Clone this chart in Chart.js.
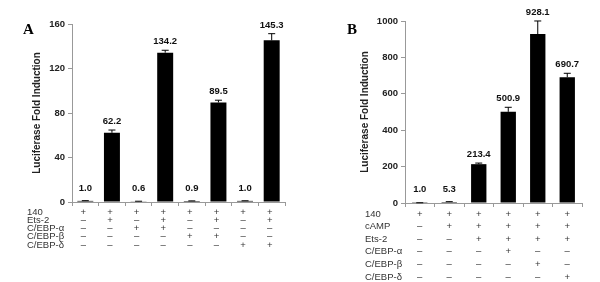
<!DOCTYPE html>
<html>
<head>
<meta charset="utf-8">
<script src="https://cdn.jsdelivr.net/npm/chart.js@4"></script>
<style>
  html, body { margin: 0; padding: 0; background: #fff; }
  #wrap { display: flex; width: 600px; height: 282px; }
  canvas { display: block; }
</style>
</head>
<body>
<div id="wrap">
  <canvas id="chartA" width="300" height="282"></canvas>
  <canvas id="chartB" width="300" height="282"></canvas>
</div>
<script>
// Panel A data
const categoriesA = ['140', '140+Ets-2', '140+C/EBP-α', '140+Ets-2+C/EBP-α', '140+C/EBP-β', '140+Ets-2+C/EBP-β', '140+C/EBP-δ', '140+Ets-2+C/EBP-δ'];
const valuesA = [1.0, 62.2, 0.6, 134.2, 0.9, 89.5, 1.0, 145.3];
const errorsA = [0.2, 2.5, 0.1, 2.2, 0.1, 2.0, 0.1, 6.0];
const ticksA = [0, 40, 80, 120, 160];
const rowNamesA = ['140', 'Ets-2', 'C/EBP-α', 'C/EBP-β', 'C/EBP-δ'];
const rowSignsA = [
    ['+', '+', '+', '+', '+', '+', '+', '+'],
    ['–', '+', '–', '+', '–', '+', '–', '+'],
    ['–', '–', '+', '+', '–', '–', '–', '–'],
    ['–', '–', '–', '–', '+', '+', '–', '–'],
    ['–', '–', '–', '–', '–', '–', '+', '+']
];

// Panel B data
const categoriesB = ['140', '140+cAMP', '140+cAMP+Ets-2', '140+cAMP+Ets-2+C/EBP-α', '140+cAMP+Ets-2+C/EBP-β', '140+cAMP+Ets-2+C/EBP-δ'];
const valuesB = [1.0, 5.3, 213.4, 500.9, 928.1, 690.7];
const errorsB = [0.3, 2, 6, 25, 72, 22];
const ticksB = [0, 200, 400, 600, 800, 1000];
const rowNamesB = ['140', 'cAMP', 'Ets-2', 'C/EBP-α', 'C/EBP-β', 'C/EBP-δ'];
const rowSignsB = [
    ['+', '+', '+', '+', '+', '+'],
    ['–', '+', '+', '+', '+', '+'],
    ['–', '–', '+', '+', '+', '+'],
    ['–', '–', '–', '+', '–', '–'],
    ['–', '–', '–', '–', '+', '–'],
    ['–', '–', '–', '–', '–', '+']
];

const FONT = "'Liberation Sans', Arial, sans-serif";

// error bars, value labels, letter and condition table
const extrasPlugin = {
    id: 'extras',
    afterDatasetsDraw(chart, args, opts) {
        const ctx = chart.ctx;
        const y = chart.scales.y;
        const x = chart.scales.x;
        const meta = chart.getDatasetMeta(0);
        ctx.save();
        ctx.strokeStyle = '#000';
        ctx.lineWidth = 1;
        ctx.fillStyle = '#111';
        ctx.font = 'bold 9.5px ' + FONT;
        ctx.textAlign = 'center';
        ctx.textBaseline = 'bottom';
        opts.values.forEach((v, i) => {
            const bx = meta.data[i].x;
            const top = y.getPixelForValue(v);
            const cap = y.getPixelForValue(v + opts.errors[i]);
            ctx.beginPath();
            ctx.moveTo(bx, top);
            ctx.lineTo(bx, cap);
            ctx.moveTo(bx - 3.5, cap);
            ctx.lineTo(bx + 3.5, cap);
            ctx.stroke();
            ctx.fillText(v.toFixed(1), bx, Math.min(cap, y.bottom - 5) - 4);
        });

        // panel letter
        ctx.font = "bold 15px 'Liberation Serif', 'Times New Roman', serif";
        ctx.textAlign = 'left';
        ctx.textBaseline = 'middle';
        ctx.fillStyle = '#000';
        ctx.fillText(opts.letter, opts.letterX, 30);

        // condition table
        ctx.font = '9.5px ' + FONT;
        ctx.fillStyle = '#333';
        opts.rows.forEach((name, r) => {
            const ry = opts.rowTop + r * opts.rowStep;
            ctx.textAlign = 'left';
            ctx.fillText(name, opts.rowX, ry);
            ctx.textAlign = 'center';
            opts.signs[r].forEach((s, i) => {
                ctx.fillText(s, x.getPixelForValue(i) + opts.signShift, ry);
            });
        });
        ctx.restore();
    }
};

function makeChart(id, cfg) {
    return new Chart(document.getElementById(id), {
        type: 'bar',
        data: {
            labels: cfg.labels,
            datasets: [{
                data: cfg.values,
                backgroundColor: '#000',
                borderWidth: 0,
                barPercentage: cfg.barPct,
                categoryPercentage: 1
            }]
        },
        options: {
            responsive: false,
            animation: false,
            devicePixelRatio: 1,
            layout: { padding: { left: 0, right: cfg.padRight, top: cfg.padTop, bottom: 0 } },
            plugins: {
                legend: { display: false },
                tooltip: { enabled: false },
                extras: cfg.extras
            },
            scales: {
                x: {
                    offset: true,
                    ticks: { display: false },
                    grid: { drawOnChartArea: false, offset: true, tickLength: 4, color: '#999' },
                    border: { color: '#999' },
                    afterFit: s => { s.height = cfg.xHeight; }
                },
                y: {
                    min: 0,
                    max: cfg.ticks[cfg.ticks.length - 1],
                    afterBuildTicks: s => { s.ticks = cfg.ticks.map(v => ({ value: v })); },
                    ticks: {
                        color: '#222', padding: 3,
                        font: { size: 9.5, weight: 'bold', family: FONT },
                        callback: v => String(v)
                    },
                    grid: { drawOnChartArea: false, tickLength: 4, color: '#999' },
                    border: { color: '#999' },
                    title: {
                        display: true,
                        text: 'Luciferase Fold Induction',
                        color: '#222',
                        font: { size: 10, weight: 'bold', family: FONT },
                        padding: { top: cfg.titlePad, bottom: 0 }
                    },
                    afterFit: s => { s.width = cfg.yWidth; }
                }
            }
        },
        plugins: [extrasPlugin]
    });
}

makeChart('chartA', {
    labels: categoriesA, values: valuesA, ticks: ticksA, barPct: 0.6,
    padRight: 15, padTop: 24, xHeight: 80, yWidth: 72, titlePad: 31,
    extras: {
        values: valuesA, errors: errorsA, letter: 'A', letterX: 23,
        rows: rowNamesA, signs: rowSignsA, rowX: 27, rowTop: 212.5, rowStep: 8.1, signShift: -2
    }
});

makeChart('chartB', {
    labels: categoriesB, values: valuesB, ticks: ticksB, barPct: 0.52,
    padRight: 18, padTop: 21, xHeight: 79, yWidth: 105, titlePad: 59,
    extras: {
        values: valuesB, errors: errorsB, letter: 'B', letterX: 47,
        rows: rowNamesB, signs: rowSignsB, rowX: 65, rowTop: 214, rowStep: 12.6, signShift: 0
    }
});
</script>
</body>
</html>
